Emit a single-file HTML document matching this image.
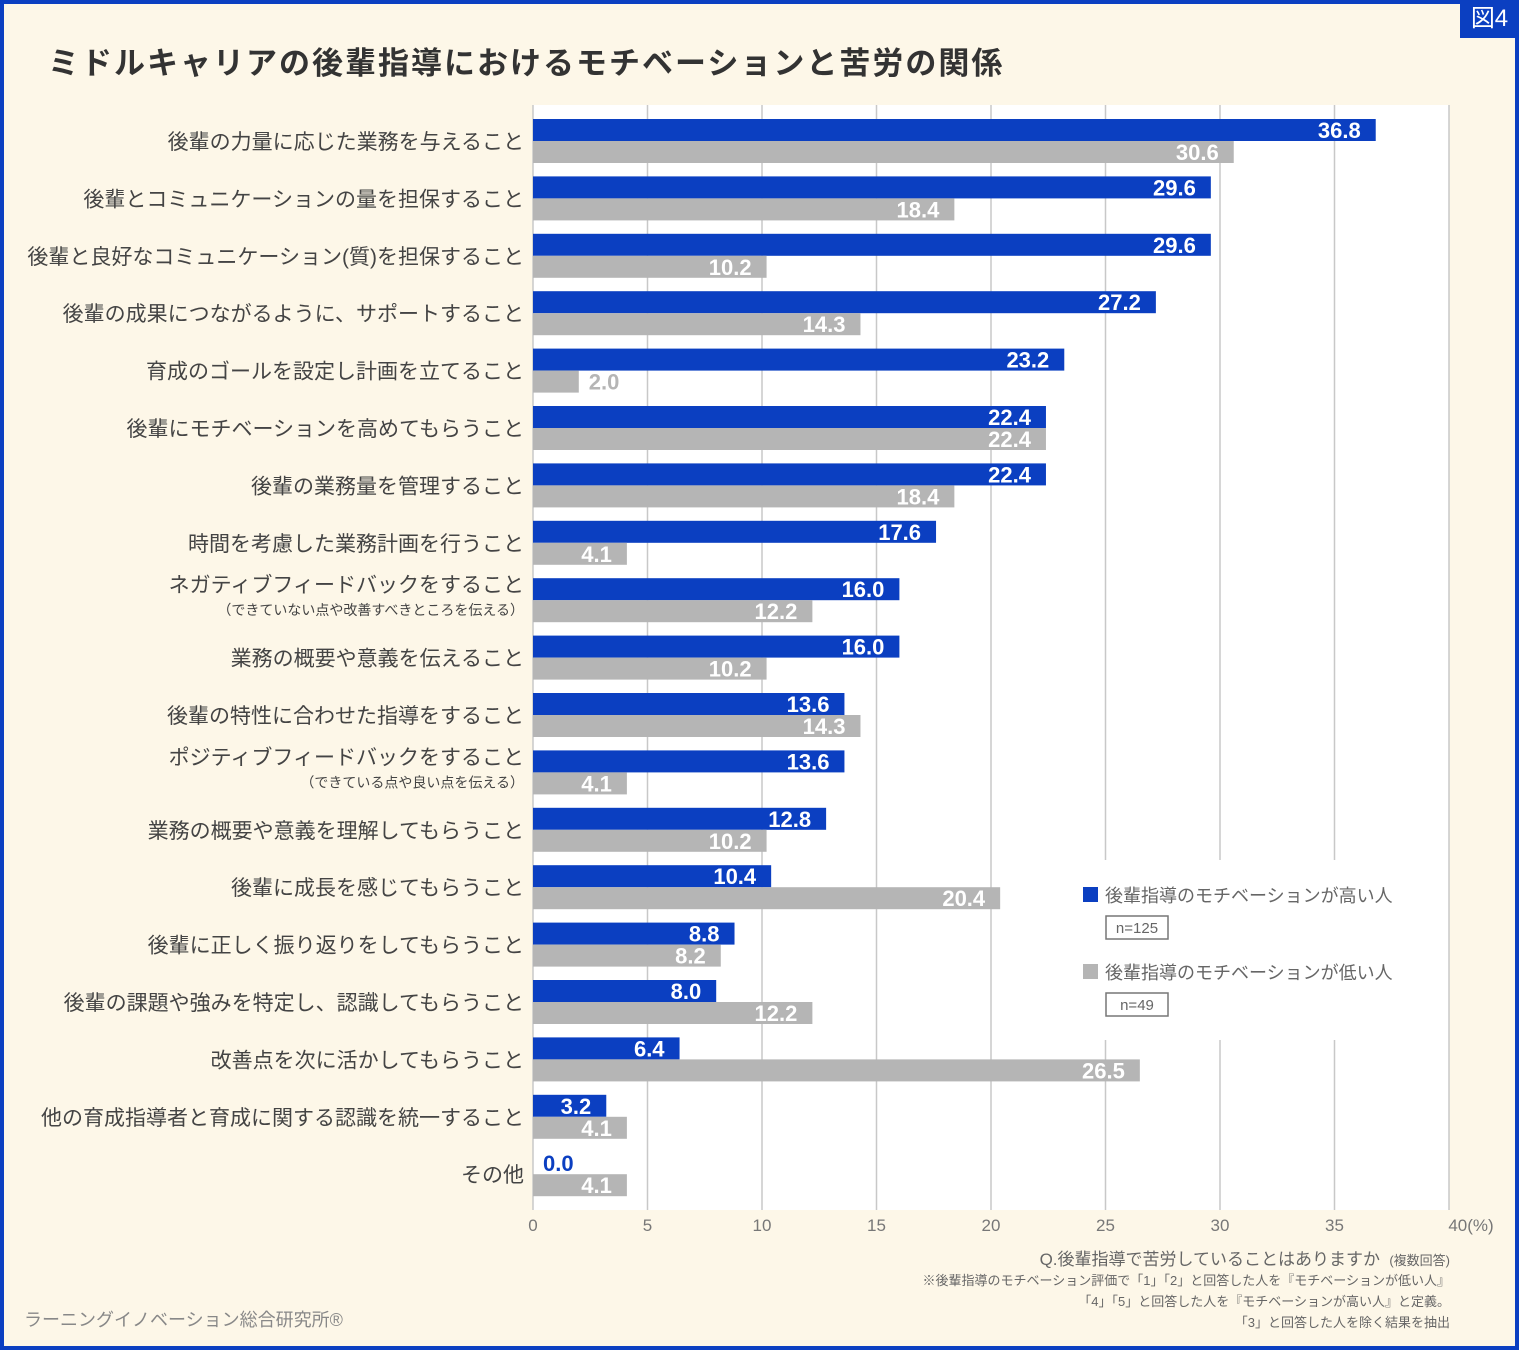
<!DOCTYPE html>
<html><head><meta charset="utf-8">
<style>
html,body{margin:0;padding:0;}
body{width:1519px;height:1350px;overflow:hidden;background:#fdf7e8;font-family:"Liberation Sans","Noto Sans CJK JP",sans-serif;}
#frame{position:absolute;left:0;top:0;width:1511px;height:1342px;border:4px solid #0b3fc1;background:#fdf7e8;}
#badge{position:absolute;right:0;top:0;width:59px;height:38px;background:#0b3fc1;color:#fff;font-size:24px;line-height:38px;text-align:center;}
#title{position:absolute;left:48px;top:38px;font-size:31px;font-weight:bold;color:#333;letter-spacing:2px;}
svg{position:absolute;left:0;top:0;}
</style></head><body>
<div id="frame"></div>
<div id="badge">図4</div>
<div id="title">ミドルキャリアの後輩指導におけるモチベーションと苦労の関係</div>
<svg id="chart" width="1519" height="1350"></svg>
<script>
const categories=["後輩の力量に応じた業務を与えること","後輩とコミュニケーションの量を担保すること","後輩と良好なコミュニケーション(質)を担保すること","後輩の成果につながるように、サポートすること","育成のゴールを設定し計画を立てること","後輩にモチベーションを高めてもらうこと","後輩の業務量を管理すること","時間を考慮した業務計画を行うこと","ネガティブフィードバックをすること","業務の概要や意義を伝えること","後輩の特性に合わせた指導をすること","ポジティブフィードバックをすること","業務の概要や意義を理解してもらうこと","後輩に成長を感じてもらうこと","後輩に正しく振り返りをしてもらうこと","後輩の課題や強みを特定し、認識してもらうこと","改善点を次に活かしてもらうこと","他の育成指導者と育成に関する認識を統一すること","その他"];
const subLabels={8:"（できていない点や改善すべきところを伝える）",11:"（できている点や良い点を伝える）"};
const highValues=[36.8,29.6,29.6,27.2,23.2,22.4,22.4,17.6,16.0,16.0,13.6,13.6,12.8,10.4,8.8,8.0,6.4,3.2,0.0];
const lowValues=[30.6,18.4,10.2,14.3,2.0,22.4,18.4,4.1,12.2,10.2,14.3,4.1,10.2,20.4,8.2,12.2,26.5,4.1,4.1];
const ticks=[0,5,10,15,20,25,30,35,40];

const svg=document.getElementById('chart');
const NS="http://www.w3.org/2000/svg";
const X0=533,X1=1449,VMAX=40,TOP=119,PITCH=57.4,BH=22;
const x=v=>X0+(v/VMAX)*(X1-X0);
const y=i=>TOP+i*PITCH;
function mk(tag,attrs,parent){const e=document.createElementNS(NS,tag);for(const k in attrs)e.setAttribute(k,attrs[k]);(parent||svg).appendChild(e);return e;}

const bg=mk('rect',{x:X0,y:105,width:X1-X0,height:1105,fill:'#fff'});


ticks.forEach(t=>{
  const l=mk('line',{x1:x(t),x2:x(t),y1:105,y2:1210,stroke:'#c8c8c8','stroke-width':1.5});
  
  
  const tx=mk('text',{x:x(t),y:1231,'text-anchor':'middle','font-size':17,fill:'#777'});
  tx.textContent=t===40?'40(%)':String(t);
  if(t===40)tx.setAttribute('x',x(t)+22);
  
  
});
const lg=mk('rect',{x:1076,y:860,width:370,height:180,fill:'#fff'});



categories.forEach((c,i)=>{
  const yb=y(i);
  const ly=subLabels[i]?yb+14:yb+30;
  const lt=mk('text',{x:524,y:ly,'text-anchor':'end','font-size':21,fill:'#444'});
  lt.textContent=c;
  
  
  if(subLabels[i]){
    const st=mk('text',{x:524,y:yb+37,'text-anchor':'end','font-size':14,fill:'#444'});
    st.textContent=subLabels[i];
    
    
  }
  [[highValues[i],'#0b3fc1',yb],[lowValues[i],'#b5b5b5',yb+BH]].forEach(([v,col,by],k)=>{
    const r=mk('rect',{x:X0,y:by,width:x(v)-X0,height:BH,fill:col});
    
    
    const w=x(v)-X0;
    let tx,anchor,fill;
    if(w>50){tx=x(v)-15;anchor='end';fill='#fff';}
    else{tx=x(v)+10;anchor='start';fill=col;}
    const vt=mk('text',{x:tx,y:by+19,'text-anchor':anchor,'font-size':22,'font-weight':'bold',fill:fill});
    vt.textContent=v.toFixed(1);
    
    
  });
});

[[0,'#0b3fc1','後輩指導のモチベーションが高い人','n=125',895],[1,'#b5b5b5','後輩指導のモチベーションが低い人','n=49',972]].forEach(([k,col,lab,n,ly])=>{
  const sw=mk('rect',{x:1083,y:ly-8,width:15,height:15,fill:col});
  
  
  const t=mk('text',{x:1105,y:ly+7,'font-size':18,fill:'#666'});
  t.textContent=lab;
  
  
  const nb=mk('rect',{x:1106,y:ly+21,width:62,height:23,fill:'#fff',stroke:'#777','stroke-width':1.5});
  
  
  const nt=mk('text',{x:1137,y:ly+38,'text-anchor':'middle','font-size':15,fill:'#666'});
  nt.textContent=n;
  
  
});

const notes=[["Q.後輩指導で苦労していることはありますか",1265,17],["※後輩指導のモチベーション評価で「1」「2」と回答した人を『モチベーションが低い人』",1285,13],["「4」「5」と回答した人を『モチベーションが高い人』と定義。",1306,13],["「3」と回答した人を除く結果を抽出",1327,13]];
notes.forEach(([s,ny,fs],i)=>{
  const t=mk('text',{x:i===0?1380:1450,y:ny,'text-anchor':'end','font-size':fs,fill:'#666'});
  t.textContent=s;
  
  
});
const q2=mk('text',{x:1450,y:1265,'text-anchor':'end','font-size':13,fill:'#666'});
q2.textContent='(複数回答)';


const src=mk('text',{x:24,y:1326,'font-size':18,fill:'#888'});
src.textContent='ラーニングイノベーション総合研究所®';


</script>
</body></html>
